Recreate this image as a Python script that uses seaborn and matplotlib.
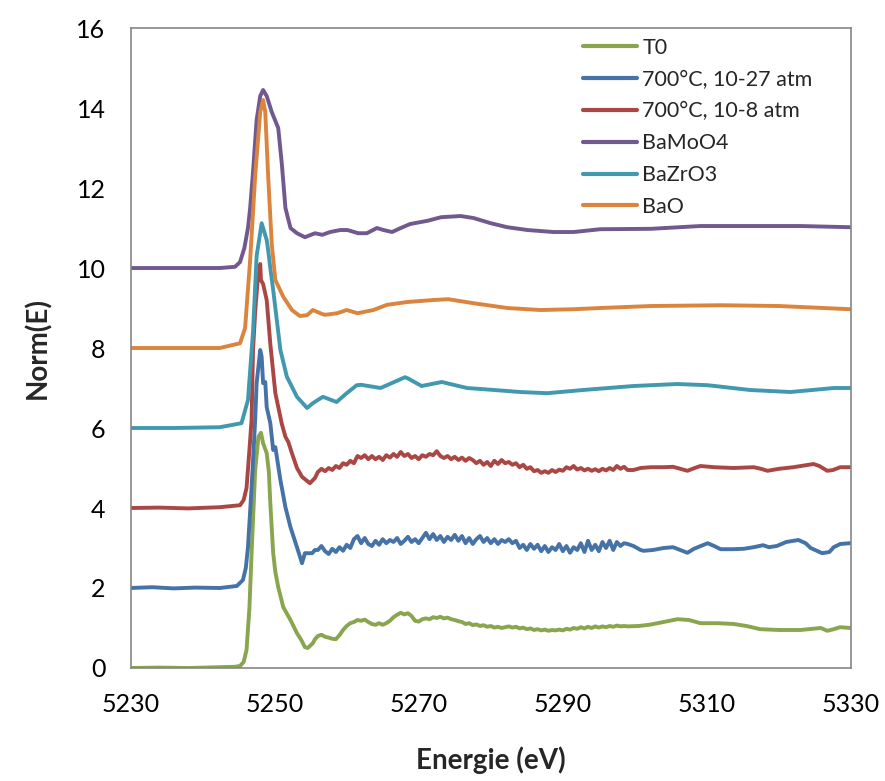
import numpy as np
import pandas as pd
import matplotlib
matplotlib.use("Agg")
import matplotlib.pyplot as plt
import seaborn as sns
from matplotlib.ticker import MultipleLocator, FixedLocator

# Energy grid shared by the noisy part of the three sample spectra (5256 -> 5299 eV)
e_noisy = [5256.0, 5256.5, 5257.0, 5257.5, 5258.0, 5258.5, 5259.0, 5259.5, 5260.0, 5260.5,
           5261.0, 5261.5, 5262.0, 5262.5, 5263.0, 5263.5, 5264.0, 5264.5, 5265.0, 5265.5,
           5266.0, 5266.5, 5267.0, 5267.5, 5268.0, 5268.5, 5269.0, 5269.5, 5270.0, 5270.5,
           5271.0, 5271.5, 5272.0, 5272.5, 5273.0, 5273.5, 5274.0, 5274.5, 5275.0, 5275.5,
           5276.0, 5276.5, 5277.0, 5277.5, 5278.0, 5278.5, 5279.0, 5279.5, 5280.0, 5280.5,
           5281.0, 5281.5, 5282.0, 5282.5, 5283.0, 5283.5, 5284.0, 5284.5, 5285.0, 5285.5,
           5286.0, 5286.5, 5287.0, 5287.5, 5288.0, 5288.5, 5289.0, 5289.5, 5290.0, 5290.5,
           5291.0, 5291.5, 5292.0, 5292.5, 5293.0, 5293.5, 5294.0, 5294.5, 5295.0, 5295.5,
           5296.0, 5296.5, 5297.0, 5297.5, 5298.0, 5298.5, 5299.0]

# T0
t0_e_head = [5230, 5234, 5238, 5242.4, 5244.5, 5245.2, 5245.7, 5246.1, 5246.5, 5246.8,
             5247.1, 5247.3, 5247.75, 5248.1, 5248.4, 5248.9, 5249.2, 5249.4, 5249.8, 5250.1,
             5250.5, 5251.2, 5252.2, 5253.1, 5253.7, 5254.2, 5254.6, 5255.3, 5255.6]
t0_v_head = [0.0, 0.01, 0.0, 0.02, 0.03, 0.05, 0.15, 0.45, 1.5, 2.87,
             4.1, 4.95, 5.78, 5.88, 5.62, 5.37, 4.9, 4.12, 2.87, 2.4,
             2.02, 1.52, 1.2, 0.87, 0.7, 0.52, 0.5, 0.62, 0.72]
t0_v_noisy = [0.80, 0.83, 0.78, 0.76, 0.73, 0.72, 0.82, 0.95, 1.05, 1.12,
              1.15, 1.20, 1.18, 1.21, 1.15, 1.10, 1.08, 1.12, 1.08, 1.12,
              1.18, 1.27, 1.33, 1.38, 1.34, 1.37, 1.30, 1.18, 1.16, 1.22,
              1.24, 1.22, 1.27, 1.25, 1.28, 1.24, 1.26, 1.22, 1.20, 1.17,
              1.15, 1.10, 1.12, 1.07, 1.09, 1.05, 1.07, 1.03, 1.05, 1.01,
              1.03, 1.00, 1.02, 1.04, 1.01, 1.03, 0.99, 1.01, 0.97, 0.99,
              0.95, 0.97, 0.94, 0.96, 0.93, 0.95, 0.94, 0.96, 0.94, 0.98,
              0.96, 1.00, 0.98, 1.02, 0.99, 1.03, 1.00, 1.04, 1.01, 1.04,
              1.02, 1.05, 1.03, 1.06, 1.04, 1.05, 1.04]
t0_e_tail = [5300.5, 5302, 5304, 5305.9, 5307.5, 5309.1, 5311.5, 5313.7, 5315.5, 5317.4,
             5320, 5323, 5325.8, 5326.7, 5327.6, 5328.5, 5329.9]
t0_v_tail = [1.05, 1.08, 1.15, 1.22, 1.2, 1.12, 1.12, 1.1, 1.05, 0.97,
             0.95, 0.95, 1.0, 0.93, 0.97, 1.02, 1.0]

# 700°C, 10-27 atm
b27_e_head = [5230, 5233, 5236, 5239, 5242.4, 5244.75, 5245.6, 5246.0, 5246.3, 5246.8,
              5247.3, 5247.5, 5248.0, 5248.2, 5248.4, 5248.7, 5248.9, 5249.4, 5249.8, 5250.1,
              5250.8, 5251.5, 5252.2, 5253.1, 5253.8, 5254.2, 5255.2, 5255.6]
b27_v_head = [2.0, 2.02, 1.99, 2.01, 2.0, 2.05, 2.2, 2.5, 3.02, 4.52,
              6.2, 7.12, 7.95, 7.78, 7.12, 7.15, 6.52, 6.12, 5.45, 5.52,
              4.7, 4.02, 3.52, 3.02, 2.62, 2.87, 2.87, 2.95]
b27_v_noisy = [2.95, 3.05, 2.92, 2.85, 2.98, 2.90, 3.02, 2.93, 3.08, 3.00,
               3.22, 3.30, 3.12, 3.25, 3.10, 3.05, 3.18, 3.08, 3.22, 3.12,
               3.20, 3.15, 3.25, 3.10, 3.18, 3.28, 3.15, 3.22, 3.12, 3.25,
               3.38, 3.22, 3.35, 3.20, 3.30, 3.15, 3.28, 3.20, 3.33, 3.18,
               3.30, 3.12, 3.25, 3.10, 3.22, 3.30, 3.15, 3.25, 3.12, 3.22,
               3.10, 3.20, 3.15, 3.22, 3.12, 3.18, 3.00, 3.08, 2.95, 3.10,
               2.98, 3.08, 2.92, 3.05, 2.90, 3.02, 2.95, 3.10, 2.92, 3.05,
               2.88, 3.02, 2.95, 3.12, 2.90, 3.18, 2.95, 3.08, 2.92, 3.15,
               3.00, 3.18, 2.95, 3.15, 3.05, 3.12, 3.10]
b27_e_tail = [5299.8, 5300.8, 5301.2, 5302.5, 5304, 5305.3, 5306.3, 5307.3, 5308.2, 5310.1,
              5311.0, 5311.9, 5313.7, 5315.1, 5316.5, 5317.8, 5318.6, 5319.7, 5321, 5322.7,
              5323.7, 5324.4, 5326.0, 5327, 5327.6, 5328.5, 5329.9]
b27_v_tail = [3.05, 2.95, 2.93, 2.95, 3.0, 3.02, 2.95, 2.88, 2.98, 3.12,
              3.05, 2.97, 2.97, 2.98, 3.02, 3.07, 3.02, 3.05, 3.15, 3.2,
              3.12, 3.0, 2.87, 2.9, 3.02, 3.1, 3.12]

# 700°C, 10-8 atm
b8_e_head = [5230, 5234, 5238, 5242.4, 5245.2, 5245.7, 5246.1, 5246.5, 5246.8, 5247.0,
             5247.3, 5247.6, 5248.0, 5248.1, 5248.4, 5248.9, 5249.4, 5250.1, 5251.0, 5251.5,
             5251.9, 5252.4, 5253.1, 5253.8, 5254.9, 5255.6]
b8_v_head = [4.0, 4.01, 3.99, 4.02, 4.07, 4.2, 4.5, 5.45, 6.2, 7.95,
             8.9, 9.6, 10.1, 9.7, 9.6, 9.2, 8.1, 6.87, 6.1, 5.78,
             5.65, 5.37, 5.0, 4.78, 4.62, 4.75]
b8_v_noisy = [4.90, 4.98, 4.92, 5.00, 4.95, 5.05, 5.00, 5.12, 5.08, 5.18,
              5.12, 5.30, 5.25, 5.32, 5.22, 5.30, 5.22, 5.28, 5.20, 5.32,
              5.26, 5.35, 5.28, 5.40, 5.30, 5.35, 5.25, 5.30, 5.22, 5.32,
              5.28, 5.35, 5.32, 5.42, 5.30, 5.25, 5.30, 5.22, 5.28, 5.20,
              5.26, 5.18, 5.25, 5.20, 5.12, 5.18, 5.08, 5.15, 5.05, 5.18,
              5.10, 5.20, 5.12, 5.15, 5.08, 5.12, 5.02, 5.08, 4.98, 5.02,
              4.92, 4.95, 4.88, 4.92, 4.88, 4.95, 4.90, 4.96, 4.93, 5.02,
              4.98, 5.05, 4.96, 5.00, 4.94, 4.98, 4.93, 4.97, 4.92, 4.98,
              4.94, 5.00, 4.95, 5.05, 4.98, 5.03, 4.95]
b8_e_tail = [5299.8, 5300.8, 5302.2, 5304, 5305.3, 5306.3, 5307.3, 5308.3, 5309.1, 5311,
             5313.7, 5316.5, 5317.5, 5318.4, 5320, 5322, 5324.8, 5325.6, 5326.7, 5327.5,
             5328.5, 5329.9]
b8_v_tail = [4.95, 5.0, 5.02, 5.02, 5.03, 4.98, 4.93, 5.0, 5.05, 5.02,
             5.0, 5.02, 4.98, 4.93, 4.98, 5.02, 5.1, 5.05, 4.93, 4.95,
             5.02, 5.02]

# BaMoO4
mo_e = [5230, 5236, 5242.4, 5244.5, 5245.2, 5245.8, 5246.3, 5246.6, 5247.0, 5247.5,
        5248.0, 5248.4, 5248.9, 5249.6, 5250.5, 5251.0, 5251.5, 5252.2, 5253.1, 5254.2,
        5255.6, 5256.6, 5257.7, 5259.1, 5260.1, 5261.6, 5262.8, 5264.2, 5265.1, 5266.3,
        5267.5, 5268.8, 5271.2, 5273.1, 5275.8, 5277.6, 5280.0, 5282.3, 5285.1, 5288.7,
        5291.5, 5295.2, 5302.2, 5309.1, 5317.4, 5323, 5329.9]
mo_v = [10.0, 10.0, 10.0, 10.03, 10.15, 10.5, 11.0, 11.5, 12.4, 13.7,
        14.3, 14.45, 14.3, 13.9, 13.5, 12.6, 11.5, 11.0, 10.87, 10.77,
        10.87, 10.83, 10.9, 10.95, 10.95, 10.87, 10.87, 11.0, 10.95, 10.9,
        11.0, 11.1, 11.18, 11.27, 11.3, 11.25, 11.12, 11.02, 10.95, 10.9,
        10.9, 10.97, 10.98, 11.05, 11.05, 11.05, 11.02]

# BaZrO3
zr_e = [5230, 5236, 5242.4, 5245.4, 5246.3, 5247.0, 5247.5, 5248.2, 5248.9, 5249.1,
        5249.4, 5249.8, 5250.8, 5251.7, 5253.1, 5254.5, 5255.3, 5256.7, 5258.6, 5260.0,
        5261.4, 5262.0, 5264.7, 5268.1, 5268.5, 5270.4, 5273.2, 5276.7, 5279, 5284.1,
        5287.8, 5292.8, 5299.8, 5305.9, 5310.1, 5316.0, 5321.6, 5327.6, 5329.9]
zr_v = [6.0, 6.0, 6.02, 6.12, 6.7, 8.4, 10.3, 11.12, 10.7, 10.45,
        10.0, 9.45, 7.95, 7.28, 6.78, 6.5, 6.62, 6.78, 6.65, 6.87,
        7.07, 7.08, 7.0, 7.27, 7.24, 7.05, 7.15, 7.0, 6.97, 6.9,
        6.87, 6.95, 7.05, 7.1, 7.07, 6.95, 6.9, 7.0, 7.0]

# BaO
bao_e = [5230, 5236, 5242.4, 5245.2, 5245.9, 5246.6, 5247.3, 5248.0, 5248.4, 5248.7,
         5249.1, 5249.6, 5250.1, 5251.2, 5252.4, 5253.5, 5254.5, 5255.3, 5256.6, 5257.0,
         5258.7, 5260.0, 5261.5, 5263.7, 5265.6, 5268.4, 5272.0, 5274.1, 5277.6, 5282.3,
         5286.9, 5291.5, 5295.2, 5302.2, 5312, 5320, 5329.9]
bao_v = [8.0, 8.0, 8.0, 8.12, 8.5, 10.2, 12.3, 13.9, 14.2, 13.9,
         12.3, 10.6, 9.7, 9.28, 8.95, 8.8, 8.82, 8.95, 8.85, 8.83,
         8.87, 8.95, 8.87, 8.95, 9.08, 9.15, 9.2, 9.22, 9.12, 9.0,
         8.95, 8.97, 9.0, 9.05, 9.07, 9.05, 8.97]

labels = ["T0", "700°C, 10-27 atm", "700°C, 10-8 atm", "BaMoO4", "BaZrO3", "BaO"]
colors = ["#89A54E", "#4572A7", "#AA4643", "#71588F", "#4198AF", "#DB843D"]

series = [
    (t0_e_head + e_noisy + t0_e_tail, t0_v_head + t0_v_noisy + t0_v_tail),
    (b27_e_head + e_noisy + b27_e_tail, b27_v_head + b27_v_noisy + b27_v_tail),
    (b8_e_head + e_noisy + b8_e_tail, b8_v_head + b8_v_noisy + b8_v_tail),
    (mo_e, mo_v),
    (zr_e, zr_v),
    (bao_e, bao_v),
]

sns.set_style("white")
plt.rcParams['font.family'] = ['Lato', 'DejaVu Sans']

fig = plt.figure(figsize=(8.85, 7.81), dpi=100)
ax = fig.add_axes([0.1475, 0.1447, 0.8141, 0.8194])

for (e, v), lab, col in zip(series, labels, colors):
    df = pd.DataFrame({"Energie": e, "Norm": v})
    sns.lineplot(data=df, x="Energie", y="Norm", ax=ax, color=col, label=lab,
                 linewidth=2.8, sort=False, estimator=None)

ax.set_xlim(5230, 5330)
ax.set_ylim(0, 16)
ax.set_xticks([5230, 5250, 5270, 5290, 5310, 5330])
ax.set_yticks([0, 2, 4, 6, 8, 10, 12, 14, 16])
ax.xaxis.set_minor_locator(FixedLocator(np.arange(5230, 5331, 4)))
ax.yaxis.set_minor_locator(MultipleLocator(0.4))

for sp in ax.spines.values():
    sp.set_color("#868686")
    sp.set_linewidth(1.2)

ax.tick_params(axis="both", which="major", direction="out", length=6, width=1.1,
               color="#868686", labelsize=18, labelcolor="black")
ax.tick_params(axis="both", which="minor", direction="out", length=4, width=1.0,
               color="#868686")
ax.tick_params(axis="y", which="major", pad=12)
ax.tick_params(axis="x", which="major", pad=12)

ax.set_xlabel("Energie (eV)", fontsize=20, fontweight="bold", labelpad=22)
ax.set_ylabel("Norm(E)", fontsize=20, fontweight="bold", labelpad=18)

leg = ax.legend(loc="upper left", bbox_to_anchor=(0.61, 1.005), frameon=False,
                fontsize=15.5, handlelength=2.5, handletextpad=0.25, labelspacing=0.55,
                borderaxespad=0.2)
for line in leg.get_lines():
    line.set_linewidth(3)

fig.savefig("out.png", dpi=100)
